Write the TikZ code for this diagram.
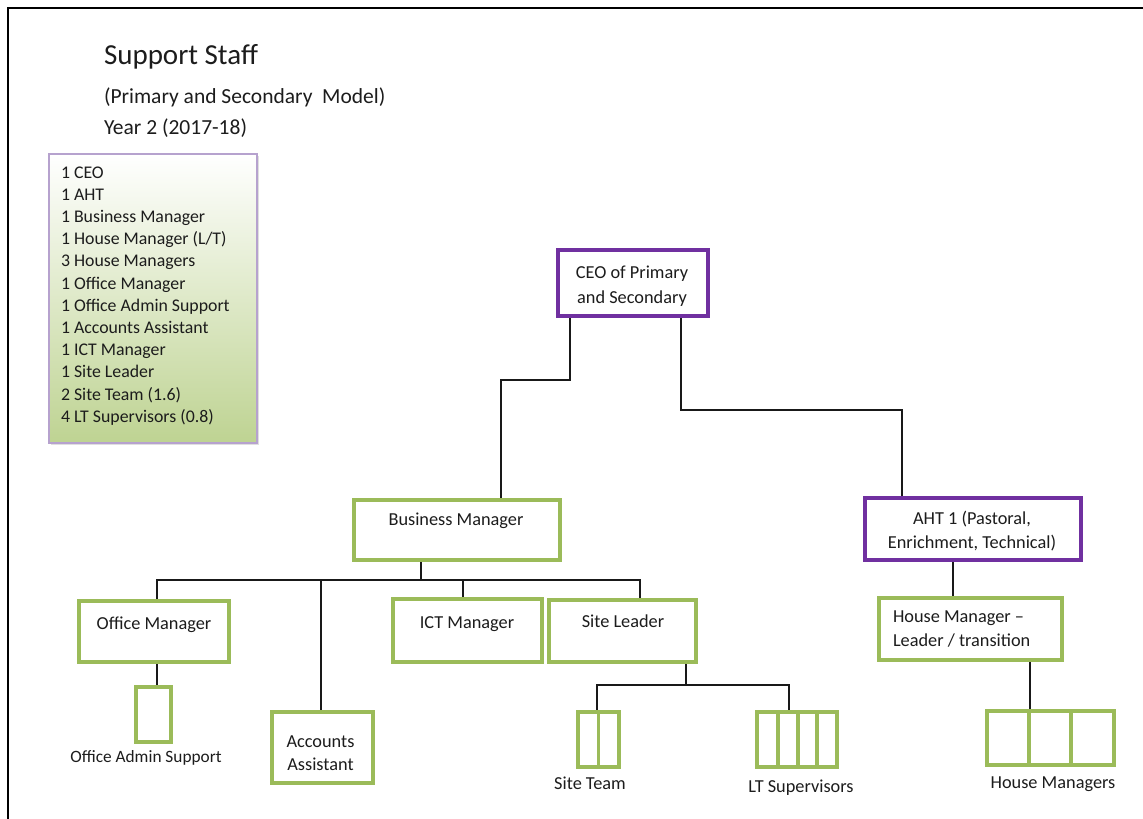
\documentclass[tikz,border=0pt]{standalone}
\usepackage{fontspec}
\setmainfont{Carlito}
\usetikzlibrary{shadows}
\definecolor{boxgreen}{RGB}{155,187,89}
\definecolor{boxpurple}{RGB}{112,48,160}
\definecolor{legendline}{RGB}{182,162,206}
\definecolor{legendgreen}{RGB}{190,211,146}
\definecolor{inktext}{RGB}{28,28,28}
\begin{document}
\begin{tikzpicture}[x=1pt,y=-1pt,
  every node/.style={inner sep=0pt,outer sep=0pt},
  txt/.style={font=\fontsize{18.3}{22}\selectfont,text=inktext,anchor=base},
  greenbox/.style={draw=boxgreen,line width=4pt,fill=white},
  purplebox/.style={draw=boxpurple,line width=4pt,fill=white},
  cell/.style={draw=boxgreen,line width=3.5pt},
  link/.style={draw=black!90,line width=2pt,shorten >=2pt}]
\useasboundingbox (0,0) rectangle (1143,819);

% page frame
\draw[line width=2pt,black] (8,819) -- (8,8) -- (1143,8);

% headings
\node[anchor=west,font=\fontsize{29}{34}\selectfont,text=inktext] (title) at (104,57) {Support Staff};
\node[anchor=west,font=\fontsize{21.5}{26}\selectfont,text=inktext] (subtitle) at (104,97) {(Primary and Secondary\ \ Model)};
\node[anchor=west,font=\fontsize{21.5}{26}\selectfont,text=inktext] (year) at (104,128) {Year 2 (2017-18)};

% staffing summary
\node[draw=legendline,line width=1.5pt,top color=white,bottom color=legendgreen,
      drop shadow={shadow xshift=2pt,shadow yshift=-2pt,opacity=.25},
      minimum width=208pt,minimum height=289pt] (legend) at (153,298.5) {};
\foreach \t [count=\i] in {1 CEO,1 AHT,1 Business Manager,1 House Manager (L/T),
    3 House Managers,1 Office Manager,1 Office Admin Support,1 Accounts Assistant,
    1 ICT Manager,1 Site Leader,2 Site Team (1.6),4 LT Supervisors (0.8)}
  \node[txt,anchor=base west,font=\fontsize{17.8}{22}\selectfont] (leg\i) at (61,{178+(\i-1)*22.2}) {\t};

% boxes
\node[purplebox,minimum width=150pt,minimum height=66pt] (ceo) at (633,283) {};
\node[greenbox,minimum width=206pt,minimum height=60pt] (bm) at (457,530) {};
\node[purplebox,minimum width=216pt,minimum height=62pt] (aht) at (973,529) {};
\node[greenbox,minimum width=150pt,minimum height=61pt] (om) at (154,631.5) {};
\node[greenbox,minimum width=35pt,minimum height=55pt] (oas) at (153.5,714.5) {};
\node[greenbox,minimum width=101pt,minimum height=71pt] (aa) at (322.5,747.5) {};
\node[greenbox,minimum width=149pt,minimum height=63pt] (ict) at (467.5,630.5) {};
\node[greenbox,minimum width=147pt,minimum height=62pt] (sl) at (622.5,631) {};
\node[greenbox,line width=3.5pt,minimum width=41pt,minimum height=55pt] (st) at (598.5,739.5) {};
\node[greenbox,line width=3.5pt,minimum width=80pt,minimum height=55pt] (lt) at (797,739.5) {};
\node[greenbox,minimum width=183pt,minimum height=62pt] (hml) at (970.5,629) {};
\node[greenbox,line width=3.5pt,minimum width=127pt,minimum height=54pt] (hm) at (1050.5,738) {};

% cell dividers of the group boxes
\foreach \d in {20.5}
  \draw[cell] ([xshift=\d pt]st.north west) -- ([xshift=\d pt]st.south west);
\foreach \d in {21,41,60}
  \draw[cell] ([xshift=\d pt]lt.north west) -- ([xshift=\d pt]lt.south west);
\foreach \d in {42,84}
  \draw[cell] ([xshift=\d pt]hm.north west) -- ([xshift=\d pt]hm.south west);

% box texts
\node[txt] (ceoA) at (632,278) {CEO of Primary};
\node[txt] (ceoB) at (632,303) {and Secondary};
\node[txt] (bmT) at (456,525) {Business Manager};
\node[txt] (ahtA) at (972,524) {AHT 1 (Pastoral,};
\node[txt] (ahtB) at (972,548) {Enrichment, Technical)};
\node[txt] (omT) at (154,629) {Office Manager};
\node[txt,font=\fontsize{17.3}{21}\selectfont] (oasT) at (146,762) {Office Admin Support};
\node[txt] (aaA) at (320.5,747) {Accounts};
\node[txt] (aaB) at (320.5,770) {Assistant};
\node[txt] (ictT) at (467,628) {ICT Manager};
\node[txt] (slT) at (623,627) {Site Leader};
\node[txt] (stT) at (590,789) {Site Team};
\node[txt] (ltT) at (801,792) {LT Supervisors};
\node[txt,anchor=base west] (hmlA) at (893,622) {House Manager --};
\node[txt,anchor=base west] (hmlB) at (893,646) {Leader / transition};
\node[txt] (hmT) at (1053,788) {House Managers};

% reporting lines
\draw[link,shorten <=2pt] ([xshift=12pt]ceo.south west) -- ++(0,64) -| ([xshift=147pt]bm.north west);
\draw[link,shorten <=2pt] ([xshift=123pt]ceo.south west) -- ++(0,94) -| ([xshift=37pt]aht.north west);

\draw[link,shorten >=0pt,shorten <=2pt] ([xshift=67pt]bm.south west) -- ++(0,20) coordinate (bus);
\draw[link] (bus) -| ([xshift=78pt]om.north west);
\draw[link] (bus) -| ([xshift=49pt]aa.north west);
\draw[link] (bus) -| ([xshift=70pt]ict.north west);
\draw[link] (bus) -| ([xshift=91pt]sl.north west);

\draw[link,shorten <=2pt] ([xshift=78pt]om.south west) -- ([xshift=78pt]om.south west |- oas.north);

\draw[link,shorten >=0pt,shorten <=2pt] ([xshift=137pt]sl.south west) -- ++(0,23) coordinate (slj);
\draw[link] (slj) -| ([xshift=19pt]st.north west);
\draw[link] (slj) -| ([xshift=32pt]lt.north west);

\draw[link,shorten <=2pt] ([xshift=88pt]aht.south west) -- ([xshift=88pt]aht.south west |- hml.north);
\draw[link,shorten <=2pt] ([xshift=151pt]hml.south west) -- ([xshift=151pt]hml.south west |- hm.north);
\end{tikzpicture}
\end{document}
